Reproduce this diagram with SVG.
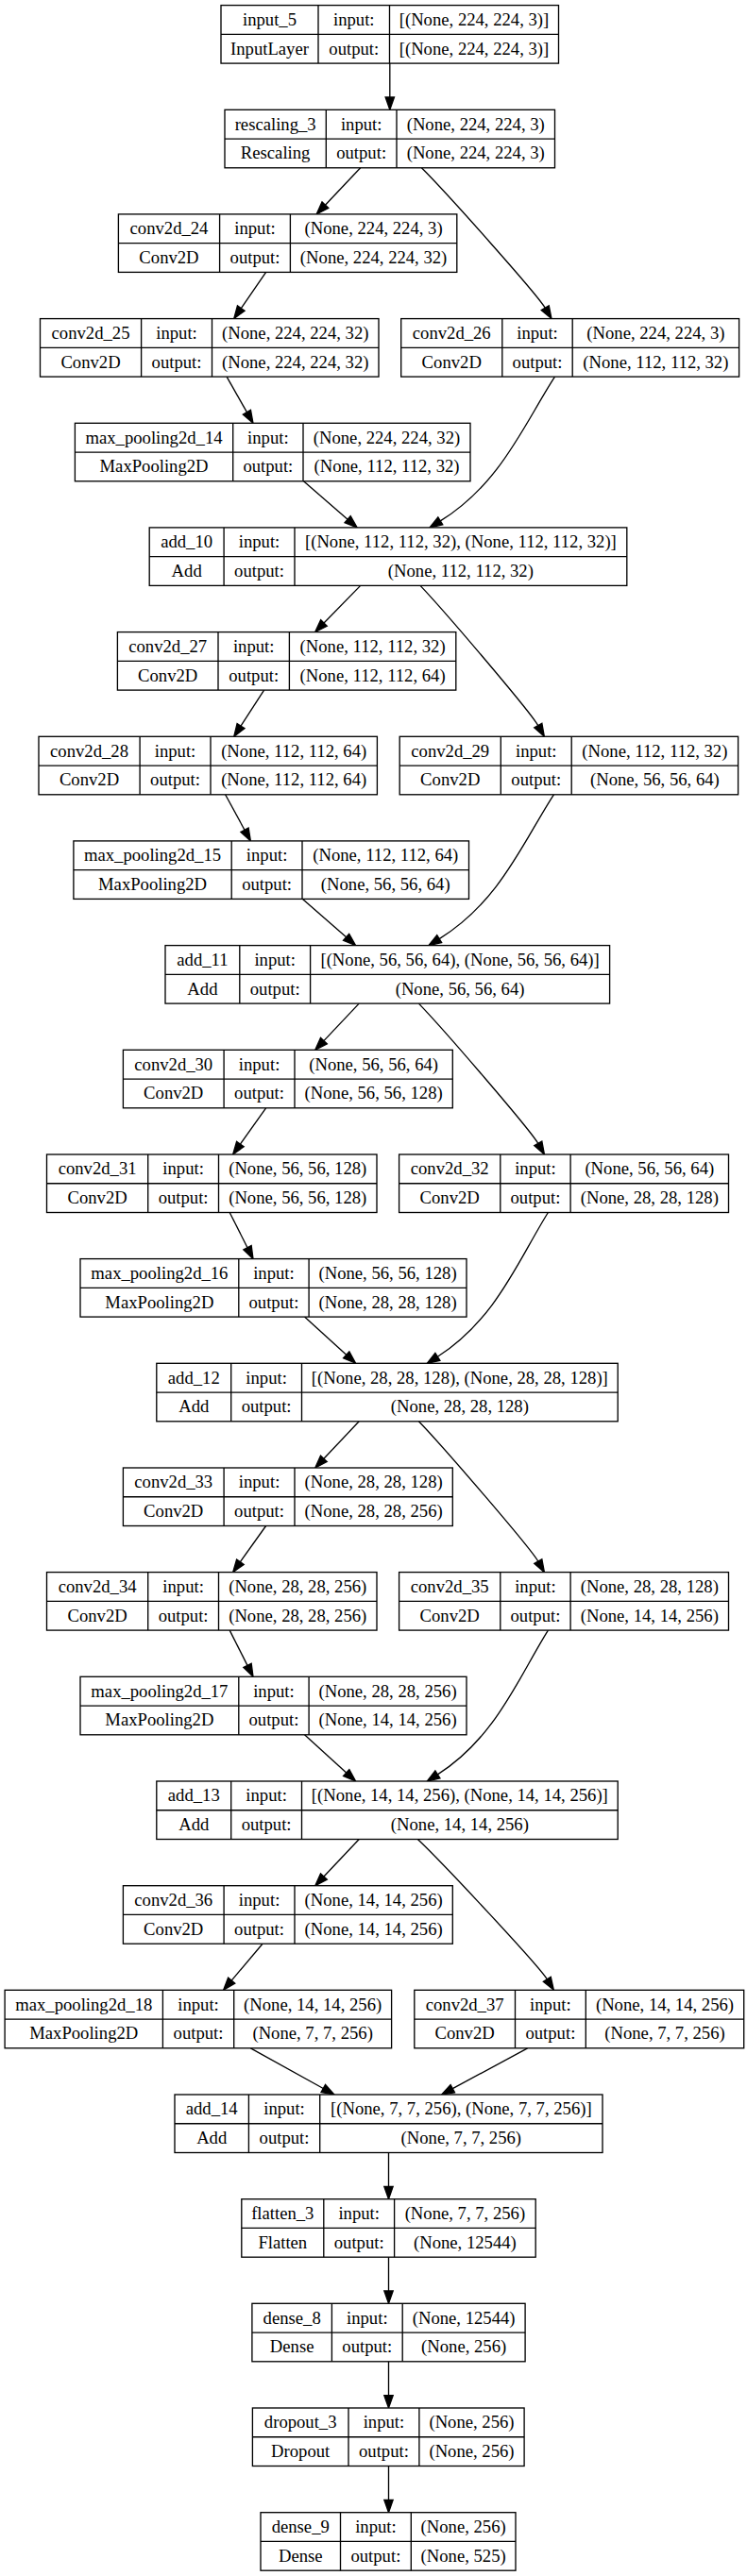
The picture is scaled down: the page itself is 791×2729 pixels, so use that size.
<svg xmlns="http://www.w3.org/2000/svg" width="791" height="2729" viewBox="0 0 791 2729">
<style>
.n rect{fill:#fff;stroke:#000;stroke-width:1.33}
.n path{fill:none;stroke:#000;stroke-width:1.33}
.n text{font-family:"Liberation Serif","Times New Roman",serif;font-size:18.67px;text-anchor:middle;fill:#000}
.e path{fill:none;stroke:#000;stroke-width:1.33;marker-end:url(#ah)}
</style>
<defs>
<marker id="ah" markerUnits="userSpaceOnUse" markerWidth="14" markerHeight="10" viewBox="0 -5 14 10" refX="0" refY="0" orient="auto" overflow="visible"><path d="M0,-4.67 L13.33,0 L0,4.67 Z" fill="#000" stroke="#000" stroke-width="1.33"/></marker>
</defs>
<rect width="791" height="2729" fill="#fff"/>
<g class="e" id="connectors">
<path d="M412.8,67.1 V103"/>
<path d="M381.7,177.8 L344.4,217.2"/>
<path d="M446.4,177.8 C474.1,205.5 568.7,311.7 577.2,326.1"/>
<path d="M281.6,288.4 L255.3,326.6"/>
<path d="M240.1,399.1 L261.4,436.7"/>
<path d="M587.5,399.1 C555.5,448.3 530.6,512.1 466.3,551.9"/>
<path d="M321.5,509.8 L368.1,550.2"/>
<path d="M381.7,620.4 L343.0,660.0"/>
<path d="M445,620.4 C471.4,648.1 561.7,754.3 569.8,768.7"/>
<path d="M279.6,731.1 L255.0,769.1"/>
<path d="M238.6,841.8 L259.0,879.2"/>
<path d="M586.4,841.8 C554.4,891 529.5,954.8 465.2,994.6"/>
<path d="M320.5,952.4 L366.6,992.8"/>
<path d="M380.2,1063.1 L342.9,1102.6"/>
<path d="M443.4,1063.1 C470.2,1090.8 561.5,1197.0 569.8,1211.4"/>
<path d="M281.6,1173.8 L254.4,1212.1"/>
<path d="M243.2,1284.5 L262.0,1321.7"/>
<path d="M580.4,1284.5 C549.5,1333.7 525.5,1397.5 463.4,1437.3"/>
<path d="M322.5,1395.1 L366.7,1435.3"/>
<path d="M380.2,1505.8 L342.9,1545.3"/>
<path d="M443.4,1505.8 C470.2,1533.5 561.5,1639.7 569.8,1654.1"/>
<path d="M281.6,1616.5 L254.4,1654.7"/>
<path d="M243.2,1727.1 L262.0,1764.4"/>
<path d="M580.4,1727.1 C549.5,1776.3 525.5,1840.1 463.4,1879.9"/>
<path d="M322.5,1837.8 L366.7,1878.0"/>
<path d="M380.2,1948.5 L342.9,1988.0"/>
<path d="M442.4,1948.5 C471.4,1976.2 570.4,2082.4 579.3,2096.8"/>
<path d="M278,2059.2 L245.2,2098.1"/>
<path d="M265.4,2169.8 L342.3,2212.5"/>
<path d="M558.6,2169.8 L479.3,2212.7"/>
<path d="M411.5,2280.5 V2316.4"/>
<path d="M411.5,2391.2 V2427"/>
<path d="M411.5,2501.8 V2537.7"/>
<path d="M411.5,2612.5 V2648.4"/>
</g>
<g class="n" id="input_5" transform="translate(234,5.6)"><rect width="357.5" height="61.5"/><path d="M103,0V61.5M178.5,0V61.5M0,30.75H357.5"/><text x="51.5" y="21.4">input_5</text><text x="51.5" y="52.1">InputLayer</text><text x="140.75" y="21.4">input:</text><text x="140.75" y="52.1">output:</text><text x="268" y="21.4">[(None, 224, 224, 3)]</text><text x="268" y="52.1">[(None, 224, 224, 3)]</text></g>
<g class="n" id="rescaling_3" transform="translate(238,116.3)"><rect width="349.5" height="61.5"/><path d="M107.3,0V61.5M182,0V61.5M0,30.75H349.5"/><text x="53.65" y="21.4">rescaling_3</text><text x="53.65" y="52.1">Rescaling</text><text x="144.65" y="21.4">input:</text><text x="144.65" y="52.1">output:</text><text x="265.75" y="21.4">(None, 224, 224, 3)</text><text x="265.75" y="52.1">(None, 224, 224, 3)</text></g>
<g class="n" id="conv2d_24" transform="translate(125.4,226.9)"><rect width="358.4" height="61.5"/><path d="M107.2,0V61.5M182,0V61.5M0,30.75H358.4"/><text x="53.6" y="21.4">conv2d_24</text><text x="53.6" y="52.1">Conv2D</text><text x="144.6" y="21.4">input:</text><text x="144.6" y="52.1">output:</text><text x="270.2" y="21.4">(None, 224, 224, 3)</text><text x="270.2" y="52.1">(None, 224, 224, 32)</text></g>
<g class="n" id="conv2d_25" transform="translate(42.5,337.6)"><rect width="358.5" height="61.5"/><path d="M107.1,0V61.5M182,0V61.5M0,30.75H358.5"/><text x="53.55" y="21.4">conv2d_25</text><text x="53.55" y="52.1">Conv2D</text><text x="144.55" y="21.4">input:</text><text x="144.55" y="52.1">output:</text><text x="270.25" y="21.4">(None, 224, 224, 32)</text><text x="270.25" y="52.1">(None, 224, 224, 32)</text></g>
<g class="n" id="conv2d_26" transform="translate(424.7,337.6)"><rect width="357.9" height="61.5"/><path d="M107.1,0V61.5M181.5,0V61.5M0,30.75H357.9"/><text x="53.55" y="21.4">conv2d_26</text><text x="53.55" y="52.1">Conv2D</text><text x="144.3" y="21.4">input:</text><text x="144.3" y="52.1">output:</text><text x="269.7" y="21.4">(None, 224, 224, 3)</text><text x="269.7" y="52.1">(None, 112, 112, 32)</text></g>
<g class="n" id="max_pooling2d_14" transform="translate(79.4,448.3)"><rect width="418.6" height="61.5"/><path d="M167.3,0V61.5M241.6,0V61.5M0,30.75H418.6"/><text x="83.65" y="21.4">max_pooling2d_14</text><text x="83.65" y="52.1">MaxPooling2D</text><text x="204.45" y="21.4">input:</text><text x="204.45" y="52.1">output:</text><text x="330.1" y="21.4">(None, 224, 224, 32)</text><text x="330.1" y="52.1">(None, 112, 112, 32)</text></g>
<g class="n" id="add_10" transform="translate(158.2,558.9)"><rect width="505.6" height="61.5"/><path d="M78.9,0V61.5M153.8,0V61.5M0,30.75H505.6"/><text x="39.45" y="21.4">add_10</text><text x="39.45" y="52.1">Add</text><text x="116.35" y="21.4">input:</text><text x="116.35" y="52.1">output:</text><text x="329.7" y="21.4">[(None, 112, 112, 32), (None, 112, 112, 32)]</text><text x="329.7" y="52.1">(None, 112, 112, 32)</text></g>
<g class="n" id="conv2d_27" transform="translate(124.4,669.6)"><rect width="358.4" height="61.5"/><path d="M106.6,0V61.5M182,0V61.5M0,30.75H358.4"/><text x="53.3" y="21.4">conv2d_27</text><text x="53.3" y="52.1">Conv2D</text><text x="144.3" y="21.4">input:</text><text x="144.3" y="52.1">output:</text><text x="270.2" y="21.4">(None, 112, 112, 32)</text><text x="270.2" y="52.1">(None, 112, 112, 64)</text></g>
<g class="n" id="conv2d_28" transform="translate(41,780.3)"><rect width="358.4" height="61.5"/><path d="M107.1,0V61.5M182,0V61.5M0,30.75H358.4"/><text x="53.55" y="21.4">conv2d_28</text><text x="53.55" y="52.1">Conv2D</text><text x="144.55" y="21.4">input:</text><text x="144.55" y="52.1">output:</text><text x="270.2" y="21.4">(None, 112, 112, 64)</text><text x="270.2" y="52.1">(None, 112, 112, 64)</text></g>
<g class="n" id="conv2d_29" transform="translate(423.2,780.3)"><rect width="358.4" height="61.5"/><path d="M107.1,0V61.5M182,0V61.5M0,30.75H358.4"/><text x="53.55" y="21.4">conv2d_29</text><text x="53.55" y="52.1">Conv2D</text><text x="144.55" y="21.4">input:</text><text x="144.55" y="52.1">output:</text><text x="270.2" y="21.4">(None, 112, 112, 32)</text><text x="270.2" y="52.1">(None, 56, 56, 64)</text></g>
<g class="n" id="max_pooling2d_15" transform="translate(77.9,890.9)"><rect width="418.6" height="61.5"/><path d="M167.3,0V61.5M242.1,0V61.5M0,30.75H418.6"/><text x="83.65" y="21.4">max_pooling2d_15</text><text x="83.65" y="52.1">MaxPooling2D</text><text x="204.7" y="21.4">input:</text><text x="204.7" y="52.1">output:</text><text x="330.35" y="21.4">(None, 112, 112, 64)</text><text x="330.35" y="52.1">(None, 56, 56, 64)</text></g>
<g class="n" id="add_11" transform="translate(175,1001.6)"><rect width="470.6" height="61.5"/><path d="M78.8,0V61.5M153.6,0V61.5M0,30.75H470.6"/><text x="39.4" y="21.4">add_11</text><text x="39.4" y="52.1">Add</text><text x="116.2" y="21.4">input:</text><text x="116.2" y="52.1">output:</text><text x="312.1" y="21.4">[(None, 56, 56, 64), (None, 56, 56, 64)]</text><text x="312.1" y="52.1">(None, 56, 56, 64)</text></g>
<g class="n" id="conv2d_30" transform="translate(130.4,1112.3)"><rect width="348.9" height="61.5"/><path d="M106.7,0V61.5M181.6,0V61.5M0,30.75H348.9"/><text x="53.35" y="21.4">conv2d_30</text><text x="53.35" y="52.1">Conv2D</text><text x="144.15" y="21.4">input:</text><text x="144.15" y="52.1">output:</text><text x="265.25" y="21.4">(None, 56, 56, 64)</text><text x="265.25" y="52.1">(None, 56, 56, 128)</text></g>
<g class="n" id="conv2d_31" transform="translate(49.5,1223)"><rect width="349.5" height="61.5"/><path d="M107.2,0V61.5M182,0V61.5M0,30.75H349.5"/><text x="53.6" y="21.4">conv2d_31</text><text x="53.6" y="52.1">Conv2D</text><text x="144.6" y="21.4">input:</text><text x="144.6" y="52.1">output:</text><text x="265.75" y="21.4">(None, 56, 56, 128)</text><text x="265.75" y="52.1">(None, 56, 56, 128)</text></g>
<g class="n" id="conv2d_32" transform="translate(422.6,1223)"><rect width="348.9" height="61.5"/><path d="M107.2,0V61.5M181.5,0V61.5M0,30.75H348.9"/><text x="53.6" y="21.4">conv2d_32</text><text x="53.6" y="52.1">Conv2D</text><text x="144.35" y="21.4">input:</text><text x="144.35" y="52.1">output:</text><text x="265.2" y="21.4">(None, 56, 56, 64)</text><text x="265.2" y="52.1">(None, 28, 28, 128)</text></g>
<g class="n" id="max_pooling2d_16" transform="translate(85,1333.6)"><rect width="409" height="61.5"/><path d="M167.8,0V61.5M242.1,0V61.5M0,30.75H409"/><text x="83.9" y="21.4">max_pooling2d_16</text><text x="83.9" y="52.1">MaxPooling2D</text><text x="204.95" y="21.4">input:</text><text x="204.95" y="52.1">output:</text><text x="325.55" y="21.4">(None, 56, 56, 128)</text><text x="325.55" y="52.1">(None, 28, 28, 128)</text></g>
<g class="n" id="add_12" transform="translate(165.8,1444.3)"><rect width="488.4" height="61.5"/><path d="M78.9,0V61.5M153.7,0V61.5M0,30.75H488.4"/><text x="39.45" y="21.4">add_12</text><text x="39.45" y="52.1">Add</text><text x="116.3" y="21.4">input:</text><text x="116.3" y="52.1">output:</text><text x="321.05" y="21.4">[(None, 28, 28, 128), (None, 28, 28, 128)]</text><text x="321.05" y="52.1">(None, 28, 28, 128)</text></g>
<g class="n" id="conv2d_33" transform="translate(130.4,1555)"><rect width="348.9" height="61.5"/><path d="M106.7,0V61.5M181.6,0V61.5M0,30.75H348.9"/><text x="53.35" y="21.4">conv2d_33</text><text x="53.35" y="52.1">Conv2D</text><text x="144.15" y="21.4">input:</text><text x="144.15" y="52.1">output:</text><text x="265.25" y="21.4">(None, 28, 28, 128)</text><text x="265.25" y="52.1">(None, 28, 28, 256)</text></g>
<g class="n" id="conv2d_34" transform="translate(49.5,1665.6)"><rect width="349.5" height="61.5"/><path d="M107.2,0V61.5M182,0V61.5M0,30.75H349.5"/><text x="53.6" y="21.4">conv2d_34</text><text x="53.6" y="52.1">Conv2D</text><text x="144.6" y="21.4">input:</text><text x="144.6" y="52.1">output:</text><text x="265.75" y="21.4">(None, 28, 28, 256)</text><text x="265.75" y="52.1">(None, 28, 28, 256)</text></g>
<g class="n" id="conv2d_35" transform="translate(422.6,1665.6)"><rect width="348.9" height="61.5"/><path d="M107.2,0V61.5M181.5,0V61.5M0,30.75H348.9"/><text x="53.6" y="21.4">conv2d_35</text><text x="53.6" y="52.1">Conv2D</text><text x="144.35" y="21.4">input:</text><text x="144.35" y="52.1">output:</text><text x="265.2" y="21.4">(None, 28, 28, 128)</text><text x="265.2" y="52.1">(None, 14, 14, 256)</text></g>
<g class="n" id="max_pooling2d_17" transform="translate(85,1776.3)"><rect width="409" height="61.5"/><path d="M167.8,0V61.5M242.1,0V61.5M0,30.75H409"/><text x="83.9" y="21.4">max_pooling2d_17</text><text x="83.9" y="52.1">MaxPooling2D</text><text x="204.95" y="21.4">input:</text><text x="204.95" y="52.1">output:</text><text x="325.55" y="21.4">(None, 28, 28, 256)</text><text x="325.55" y="52.1">(None, 14, 14, 256)</text></g>
<g class="n" id="add_13" transform="translate(165.8,1887)"><rect width="488.4" height="61.5"/><path d="M78.9,0V61.5M153.7,0V61.5M0,30.75H488.4"/><text x="39.45" y="21.4">add_13</text><text x="39.45" y="52.1">Add</text><text x="116.3" y="21.4">input:</text><text x="116.3" y="52.1">output:</text><text x="321.05" y="21.4">[(None, 14, 14, 256), (None, 14, 14, 256)]</text><text x="321.05" y="52.1">(None, 14, 14, 256)</text></g>
<g class="n" id="conv2d_36" transform="translate(130.4,1997.7)"><rect width="348.9" height="61.5"/><path d="M106.7,0V61.5M181.6,0V61.5M0,30.75H348.9"/><text x="53.35" y="21.4">conv2d_36</text><text x="53.35" y="52.1">Conv2D</text><text x="144.15" y="21.4">input:</text><text x="144.15" y="52.1">output:</text><text x="265.25" y="21.4">(None, 14, 14, 256)</text><text x="265.25" y="52.1">(None, 14, 14, 256)</text></g>
<g class="n" id="max_pooling2d_18" transform="translate(5.1,2108.3)"><rect width="409.5" height="61.5"/><path d="M167.3,0V61.5M242.6,0V61.5M0,30.75H409.5"/><text x="83.65" y="21.4">max_pooling2d_18</text><text x="83.65" y="52.1">MaxPooling2D</text><text x="204.95" y="21.4">input:</text><text x="204.95" y="52.1">output:</text><text x="326.05" y="21.4">(None, 14, 14, 256)</text><text x="326.05" y="52.1">(None, 7, 7, 256)</text></g>
<g class="n" id="conv2d_37" transform="translate(438.8,2108.3)"><rect width="348.9" height="61.5"/><path d="M106.7,0V61.5M181.5,0V61.5M0,30.75H348.9"/><text x="53.35" y="21.4">conv2d_37</text><text x="53.35" y="52.1">Conv2D</text><text x="144.1" y="21.4">input:</text><text x="144.1" y="52.1">output:</text><text x="265.2" y="21.4">(None, 14, 14, 256)</text><text x="265.2" y="52.1">(None, 7, 7, 256)</text></g>
<g class="n" id="add_14" transform="translate(185,2219)"><rect width="453" height="61.5"/><path d="M78.4,0V61.5M153.7,0V61.5M0,30.75H453"/><text x="39.2" y="21.4">add_14</text><text x="39.2" y="52.1">Add</text><text x="116.05" y="21.4">input:</text><text x="116.05" y="52.1">output:</text><text x="303.35" y="21.4">[(None, 7, 7, 256), (None, 7, 7, 256)]</text><text x="303.35" y="52.1">(None, 7, 7, 256)</text></g>
<g class="n" id="flatten_3" transform="translate(255.8,2329.7)"><rect width="311.4" height="61.5"/><path d="M87,0V61.5M161.8,0V61.5M0,30.75H311.4"/><text x="43.5" y="21.4">flatten_3</text><text x="43.5" y="52.1">Flatten</text><text x="124.4" y="21.4">input:</text><text x="124.4" y="52.1">output:</text><text x="236.6" y="21.4">(None, 7, 7, 256)</text><text x="236.6" y="52.1">(None, 12544)</text></g>
<g class="n" id="dense_8" transform="translate(266.9,2440.3)"><rect width="289.2" height="61.5"/><path d="M84.5,0V61.5M159.3,0V61.5M0,30.75H289.2"/><text x="42.25" y="21.4">dense_8</text><text x="42.25" y="52.1">Dense</text><text x="121.9" y="21.4">input:</text><text x="121.9" y="52.1">output:</text><text x="224.25" y="21.4">(None, 12544)</text><text x="224.25" y="52.1">(None, 256)</text></g>
<g class="n" id="dropout_3" transform="translate(267.4,2551)"><rect width="287.7" height="61.5"/><path d="M101.6,0V61.5M176.5,0V61.5M0,30.75H287.7"/><text x="50.8" y="21.4">dropout_3</text><text x="50.8" y="52.1">Dropout</text><text x="139.05" y="21.4">input:</text><text x="139.05" y="52.1">output:</text><text x="232.1" y="21.4">(None, 256)</text><text x="232.1" y="52.1">(None, 256)</text></g>
<g class="n" id="dense_9" transform="translate(276,2661.7)"><rect width="270" height="61.5"/><path d="M84.5,0V61.5M159.3,0V61.5M0,30.75H270"/><text x="42.25" y="21.4">dense_9</text><text x="42.25" y="52.1">Dense</text><text x="121.9" y="21.4">input:</text><text x="121.9" y="52.1">output:</text><text x="214.65" y="21.4">(None, 256)</text><text x="214.65" y="52.1">(None, 525)</text></g>
</svg>
